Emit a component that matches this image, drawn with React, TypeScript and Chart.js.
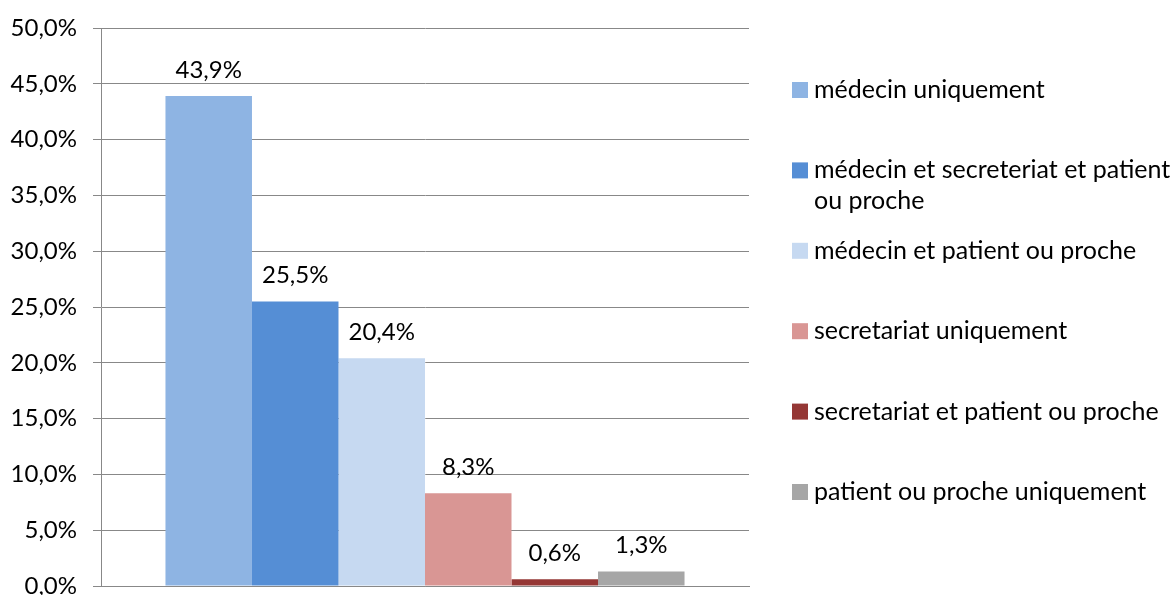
import { useEffect, useRef } from "react";
import { Chart, registerables } from "chart.js";

Chart.register(...registerables);

const categories = [""];
const seriesLabels = [
  "médecin uniquement",
  "médecin et secreteriat et patient ou proche",
  "médecin et patient ou proche",
  "secretariat uniquement",
  "secretariat et patient ou proche",
  "patient ou proche uniquement",
];
const seriesValues = [43.9, 25.5, 20.4, 8.3, 0.6, 1.3];
const seriesColors = ["#8EB4E3", "#558ED5", "#C6D9F1", "#D99694", "#953735", "#A6A6A6"];
const yMin = 0;
const yMax = 50;
const yStep = 5;

const FONT = "Lato, 'Noto Sans', sans-serif";
const fmt = (v: number) => v.toFixed(1).replace(".", ",") + "%";

const dataLabelPlugin = {
  id: "dataLabels",
  afterDatasetsDraw(chart: any) {
    const ctx = chart.ctx;
    ctx.save();
    ctx.font = `24px ${FONT}`;
    ctx.fillStyle = "#000";
    ctx.textAlign = "center";
    ctx.textBaseline = "middle";
    chart.data.datasets.forEach((ds: any, i: number) => {
      const meta = chart.getDatasetMeta(i);
      meta.data.forEach((bar: any, j: number) => {
        ctx.fillText(fmt(ds.data[j]), bar.x, bar.y - 26);
      });
    });
    ctx.restore();
  },
};

const sideLegendPlugin = {
  id: "sideLegend",
  afterDraw(chart: any) {
    const ctx = chart.ctx;
    ctx.save();
    ctx.font = `25px ${FONT}`;
    ctx.textBaseline = "middle";
    ctx.textAlign = "left";
    const boxX = 792;
    const textX = 814;
    const maxW = chart.width - textX;
    chart.data.datasets.forEach((ds: any, i: number) => {
      const y = 90 + i * 80.4;
      ctx.fillStyle = ds.backgroundColor;
      ctx.fillRect(boxX, y - 8, 16, 16);
      ctx.fillStyle = "#000";
      const words = String(ds.label).split(" ");
      const lines: string[] = [];
      let cur = "";
      words.forEach((w) => {
        const t = cur ? cur + " " + w : w;
        if (ctx.measureText(t).width > maxW && cur) {
          lines.push(cur);
          cur = w;
        } else cur = t;
      });
      if (cur) lines.push(cur);
      lines.forEach((ln, k) => ctx.fillText(ln, textX, y + k * 31));
    });
    ctx.restore();
  },
};

export default function App() {
  const ref = useRef<HTMLCanvasElement | null>(null);
  useEffect(() => {
    document.body.style.margin = "0";
    const chart = new Chart(ref.current as HTMLCanvasElement, {
      type: "bar",
      data: {
        labels: categories,
        datasets: seriesLabels.map((label, i) => ({
          label,
          data: [seriesValues[i]],
          backgroundColor: seriesColors[i],
          borderWidth: 0,
          barPercentage: 1,
          categoryPercentage: 0.801,
        })),
      },
      options: {
        responsive: false,
        animation: false,
        layout: { padding: { left: 0, right: 424, top: 28, bottom: 9 } },
        plugins: { legend: { display: false }, tooltip: { enabled: false } },
        scales: {
          x: {
            grid: { display: false },
            border: { display: true, color: "#888888", width: 1 },
            ticks: { display: false },
            afterFit: (s: any) => {
              s.height = 0;
              s.paddingLeft = 0;
              s.paddingRight = 0;
            },
          },
          y: {
            min: yMin,
            max: yMax,
            ticks: {
              stepSize: yStep,
              color: "#000",
              font: { family: FONT, size: 24 },
              padding: 16,
              callback: (v: any) => fmt(Number(v)),
            },
            grid: { color: "#888888", lineWidth: 1, tickLength: 8 },
            border: { display: true, color: "#888888", width: 1 },
            afterFit: (s: any) => {
              s.width = 101;
              s.paddingTop = 0;
              s.paddingBottom = 0;
            },
          },
        },
      },
      plugins: [dataLabelPlugin, sideLegendPlugin],
    });
    return () => chart.destroy();
  }, []);
  return <canvas ref={ref} width={1173} height={595} style={{ display: "block" }} />;
}
